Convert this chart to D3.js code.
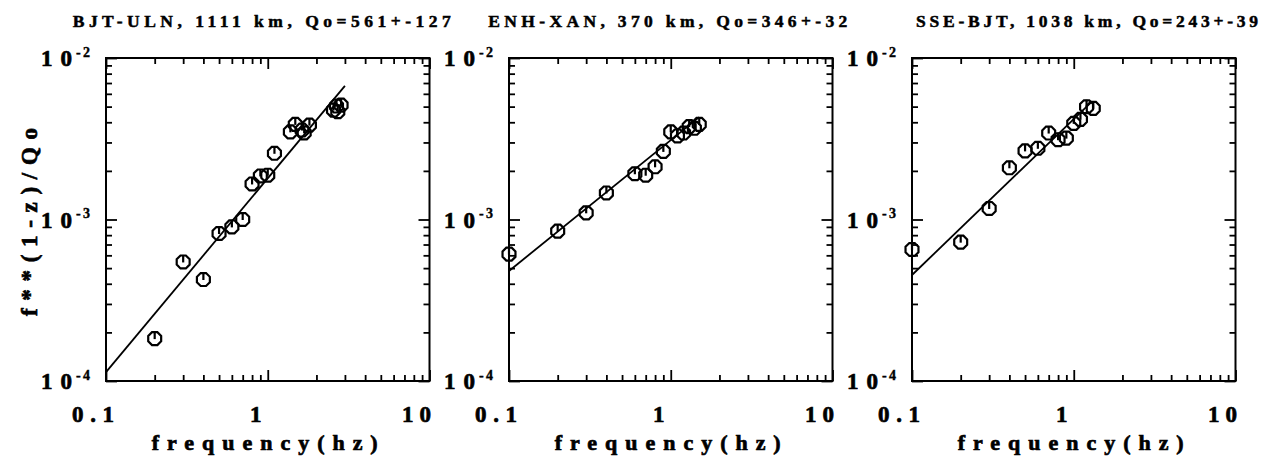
<!DOCTYPE html>
<html><head><meta charset="utf-8">
<script src="https://cdn.jsdelivr.net/npm/d3@7"></script>
<style>body{margin:0;background:#fff}svg{display:block}</style>
</head><body>
<svg id="c" width="1270" height="462"></svg>
<script>
// ---- data ----
const titles = ["BJT-ULN, 1111 km, Qo=561+-127", "ENH-XAN, 370 km, Qo=346+-32", "SSE-BJT, 1038 km, Qo=243+-39"];
const freqs1 = [0.2,0.3,0.4,0.5,0.6,0.7,0.8,0.9,1.0,1.1,1.38,1.48,1.63,1.68,1.81,2.55,2.71,2.84,2.66];
const vals1  = [1.83e-4,5.46e-4,4.25e-4,8.19e-4,9.0e-4,1.0e-3,1.66e-3,1.86e-3,1.88e-3,2.57e-3,3.49e-3,3.88e-3,3.58e-3,3.44e-3,3.84e-3,4.76e-3,4.65e-3,5.11e-3,5.04e-3];
const freqs2 = [0.1,0.2,0.3,0.4,0.6,0.7,0.8,0.9,1.0,1.1,1.2,1.3,1.4,1.5];
const vals2  = [6.10e-4,8.47e-4,1.10e-3,1.46e-3,1.92e-3,1.88e-3,2.12e-3,2.64e-3,3.49e-3,3.29e-3,3.43e-3,3.76e-3,3.67e-3,3.88e-3];
const freqs3 = [0.1,0.2,0.3,0.4,0.5,0.6,0.7,0.8,0.9,1.0,1.1,1.2,1.32];
const vals3  = [6.52e-4,7.24e-4,1.17e-3,2.09e-3,2.66e-3,2.76e-3,3.43e-3,3.12e-3,3.19e-3,3.94e-3,4.17e-3,4.99e-3,4.88e-3];
// fitted lines: value at 1 Hz, slope (1-z), frequency range
const fitAt1Hz = [1.80e-3, 3.10e-3, 4.19e-3];
const fitSlope = [1.2, 0.81, 0.966];
const fitRange = [[0.1, 3.0], [0.1, 1.5], [0.1, 1.28]];
const xTickLabels = ["0.1", "1", "10"];
const xTickValues = [0.1, 1, 10];
const yTickExps = [-2, -3, -4];
const xAxisTitle = "frequency(hz)";
const yAxisTitle = "f**(1-z)/Qo";

const datasets = [[freqs1, vals1], [freqs2, vals2], [freqs3, vals3]];

// ---- layout ----
const svg = d3.select("#c");
const lefts = [106, 509, 912];
const W = 323.5, topY = 58, bottomY = 381;
const titleStart = [72.7, 488.3, 916], titleLen = [378, 359, 342];
const serif = "'Liberation Serif','Times New Roman',serif";

function boldText(sel, size) {
  return sel.attr("font-family", serif).attr("font-weight", "bold").attr("font-size", size)
    .attr("fill", "#000").attr("stroke", "#000").attr("stroke-width", 0.7);
}

const octagon = {
  draw(ctx, size) {
    const r = Math.sqrt(size);
    for (let i = 0; i < 8; i++) {
      const a = Math.PI / 8 + i * Math.PI / 4;
      const px = r * Math.cos(a), py = r * Math.sin(a);
      if (i === 0) ctx.moveTo(px, py); else ctx.lineTo(px, py);
    }
    ctx.closePath();
  }
};

const minorX = [], majorX = [0.1, 1, 10];
[0.1, 1].forEach(d => { for (let k = 2; k <= 9; k++) minorX.push(k * d); });
const minorY = [], majorY = [1e-4, 1e-3, 1e-2];
[1e-4, 1e-3].forEach(d => { for (let k = 2; k <= 9; k++) minorY.push(k * d); });

datasets.forEach(([fs, vs], i) => {
  const L = lefts[i];
  const x = d3.scaleLog().domain([0.1, 10]).range([L, L + W]);
  const y = d3.scaleLog().domain([1e-4, 1e-2]).range([bottomY, topY]);
  const g = svg.append("g");

  // title
  boldText(g.append("text").attr("x", titleStart[i]).attr("y", 26.5)
    .attr("textLength", titleLen[i]).attr("lengthAdjust", "spacing"), 17.5)
    .attr("stroke-width", 0.5)
    .text(titles[i]);

  // axes ticks (inward, all four sides)
  const axes = [
    [d3.axisBottom, `translate(0,${bottomY})`, x],
    [d3.axisTop, `translate(0,${topY})`, x],
    [d3.axisLeft, `translate(${L},0)`, y],
    [d3.axisRight, `translate(${L + W},0)`, y]
  ];
  axes.forEach(([fn, tr, sc]) => {
    const isX = sc === x;
    const maj = isX ? majorX : majorY, min = isX ? minorX : minorY;
    [[maj, 11], [min, 6]].forEach(([vals, len]) => {
      const ag = g.append("g").attr("transform", tr)
        .call(fn(sc).tickValues(vals).tickSize(-len).tickFormat(""));
      ag.select(".domain").remove();
      ag.selectAll("line").attr("stroke", "#000").attr("stroke-width", 1.8);
    });
  });

  // frame
  g.append("rect").attr("x", L).attr("y", topY).attr("width", W).attr("height", bottomY - topY)
    .attr("fill", "none").attr("stroke", "#000").attr("stroke-width", 2);

  // x tick labels
  xTickValues.forEach((v, j) => {
    const lab = xTickLabels[j];
    const t = boldText(g.append("text").attr("y", 421.5), 23);
    if (lab.length > 1) {
      t.attr("x", x(v) - 13).attr("text-anchor", "middle")
        .attr("textLength", lab.length === 3 ? 42 : 29).attr("lengthAdjust", "spacing");
    } else {
      t.attr("x", x(v) - 12).attr("text-anchor", "middle");
    }
    t.text(lab);
  });
  // y tick labels
  yTickExps.forEach(e => {
    const yy = y(Math.pow(10, e));
    boldText(g.append("text").attr("x", L - 65).attr("y", yy + 8)
      .attr("textLength", 31).attr("lengthAdjust", "spacing"), 23).text("10");
    boldText(g.append("text").attr("x", L - 30).attr("y", yy - 1.5)
      .attr("textLength", 14).attr("lengthAdjust", "spacing"), 14)
      .attr("stroke-width", 0.4).text(String(e));
  });

  // x axis title
  boldText(g.append("text").attr("x", L + 45.7).attr("y", 449.5)
    .attr("textLength", 226).attr("lengthAdjust", "spacing"), 22)
    .text(xAxisTitle);

  // fit line
  const lineGen = d3.line().x(d => x(d)).y(d => y(fitAt1Hz[i] * Math.pow(d, fitSlope[i])));
  g.append("path").datum(fitRange[i]).attr("d", lineGen)
    .attr("fill", "none").attr("stroke", "#000").attr("stroke-width", 1.8);

  // markers
  const pts = fs.map((f, k) => [f, vs[k]]);
  const mg = g.selectAll("g.pt").data(pts).enter().append("g")
    .attr("transform", d => `translate(${x(d[0])},${y(d[1])})`);
  mg.append("path").attr("d", d3.symbol().type(octagon).size(7 * 7))
    .attr("fill", "none").attr("stroke", "#000").attr("stroke-width", 2.2);
  mg.append("line").attr("x1", 0).attr("x2", 0).attr("y1", -7).attr("y2", 0.5)
    .attr("stroke", "#000").attr("stroke-width", 2.2);
});

// y axis title
boldText(svg.append("text").attr("transform", "translate(37,316) rotate(-90)")
  .attr("textLength", 188).attr("lengthAdjust", "spacing"), 23)
  .text(yAxisTitle);
</script>
</body></html>
